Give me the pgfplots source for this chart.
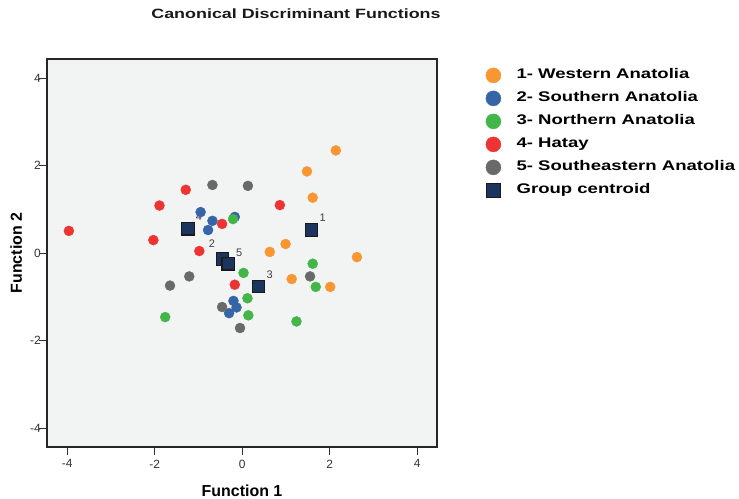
\documentclass[border=0pt]{standalone}
\usepackage{pgfplots}
\pgfplotsset{compat=1.18}
\usepackage{fontspec}
\setmainfont{Liberation Sans}
\newfontfamily\widefont{Liberation Sans}[FakeStretch=1.33]

\definecolor{grpone}{RGB}{248,150,50}
\definecolor{grptwo}{RGB}{53,101,166}
\definecolor{grpthree}{RGB}{67,181,73}
\definecolor{grpfour}{RGB}{238,52,51}
\definecolor{grpfive}{RGB}{105,105,105}
\definecolor{centr}{RGB}{28,53,95}
\definecolor{plotbg}{RGB}{242,243,243}

\pgfplotsset{
  dot legend/.style={legend image code/.code={\path (-8bp,-8bp) (8bp,8bp);
    \draw[##1, mark size=7.5bp] plot coordinates {(0bp,0bp)};}},
  box legend/.style={legend image code/.code={\path (-8bp,-8bp) (8bp,8bp);
    \draw[##1, mark size=7bp] plot coordinates {(0bp,0bp)};}},
}

\begin{document}
\begin{tikzpicture}
\path[use as bounding box] (0,0) rectangle (739bp,499bp);
\begin{axis}[
  at={(47bp,52bp)}, anchor=south west,
  width=390bp, height=388bp, scale only axis,
  xmin=-4.46, xmax=4.45, ymin=-4.43, ymax=4.44,
  xtick={-4,-2,0,2,4}, ytick={-4,-2,0,2,4},
  tick align=outside, tick pos=left,
  major tick length=8bp,
  tick style={black!80, line width=1bp},
  axis line style={black!85, line width=1.4bp},
  axis background/.style={fill=plotbg},
  /pgf/number format/assume math mode=true,
  tick label style={font=\fontsize{12}{14}\selectfont, text=black!80},
  xticklabel style={inner sep=0pt, yshift=-4.5bp},
  yticklabel style={inner sep=0pt, xshift=2bp},
  xlabel={Function 1}, ylabel={Function 2},
  label style={font=\fontsize{16}{18}\selectfont\bfseries},
  xlabel style={at={(axis description cs:0.5,-0.1263)}, anchor=base},
  ylabel style={at={(axis description cs:-0.0641,0.5)}, anchor=base},
  legend style={at={(rel axis cs:1.1231,0.9794)}, anchor=north west,
    draw=none, fill=none, inner sep=0pt, row sep=6.6bp, column sep=15bp,
    font=\fontsize{14}{16}\selectfont\widefont\bfseries,
    nodes={inner sep=0pt, text height=0.72em, text depth=0pt}},
  legend cell align=left,
  dot legend,
  every axis plot/.append style={only marks, mark=*, mark size=5bp},
]
\node[font=\fontsize{11}{13}\selectfont, text=black!75] at (axis cs:1.84,0.80) {1};
\node[font=\fontsize{11}{13}\selectfont, text=black!75] at (axis cs:-0.69,0.21) {2};
\node[font=\fontsize{11}{13}\selectfont, text=black!75] at (axis cs:0.63,-0.49) {3};
\node[font=\fontsize{11}{13}\selectfont, text=black!75] at (axis cs:-0.99,0.83) {4};
\node[font=\fontsize{11}{13}\selectfont, text=black!75] at (axis cs:-0.07,0.02) {5};

\addplot[mark options={fill=grpone, draw=grpone}] coordinates {
  (2.14,2.35) (1.48,1.87) (1.61,1.27) (0.99,0.21)
  (0.63,0.03) (2.62,-0.09) (1.13,-0.59) (2.01,-0.77)};
\addlegendentry{1- Western Anatolia}
\addplot[mark options={fill=grptwo, draw=grptwo}] coordinates {
  (-0.95,0.94) (-0.68,0.74) (-0.17,0.83) (-0.78,0.53)
  (-0.20,-1.09) (-0.13,-1.24) (-0.30,-1.37)};
\addlegendentry{2- Southern Anatolia}
\addplot[mark options={fill=grpthree, draw=grpthree}] coordinates {
  (-0.21,0.78) (0.03,-0.45) (1.61,-0.24) (1.68,-0.77)
  (0.12,-1.03) (0.14,-1.42) (1.24,-1.56) (-1.76,-1.46)};
\addlegendentry{3- Northern Anatolia}
\addplot[mark options={fill=grpfour, draw=grpfour}] coordinates {
  (-1.29,1.45) (-1.89,1.09) (-3.96,0.51) (-0.46,0.67)
  (-2.03,0.30) (-0.98,0.05) (0.86,1.10) (-0.17,-0.72)};
\addlegendentry{4- Hatay}
\addplot[mark options={fill=grpfive, draw=grpfive}] coordinates {
  (-0.68,1.56) (0.13,1.54) (-1.21,-0.53) (-1.65,-0.74)
  (-0.46,-1.23) (-0.05,-1.71) (1.55,-0.53)};
\addlegendentry{5- Southeastern Anatolia}
\addplot[mark=square*, mark size=6.2bp, box legend,
  mark options={fill=centr, draw=black!90, line width=1.2bp}] coordinates {
  (1.58,0.53) (-0.45,-0.13) (0.37,-0.76) (-1.24,0.56) (-0.32,-0.24)};
\addlegendentry{Group centroid}
\end{axis}
\node[anchor=base, font=\fontsize{13.5}{15}\selectfont\widefont\bfseries, text=black!90]
  at (296bp,480bp) {Canonical Discriminant Functions};
\end{tikzpicture}
\end{document}
